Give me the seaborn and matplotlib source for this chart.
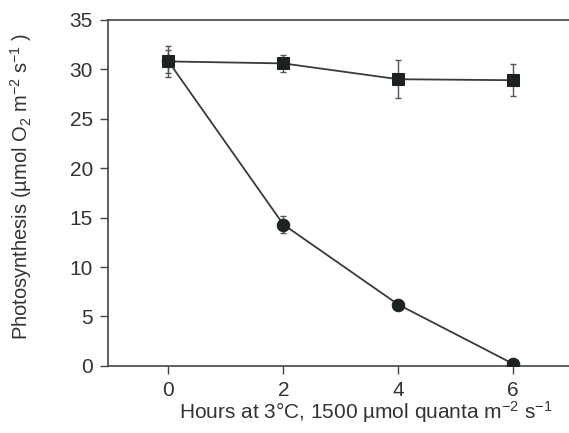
import matplotlib
matplotlib.use("Agg")
import matplotlib.pyplot as plt
import seaborn as sns
import pandas as pd

hours = [0, 2, 4, 6]
control = [30.8, 30.6, 29.0, 28.9]
control_err = [1.6, 0.9, 1.9, 1.6]
treated = [30.8, 14.3, 6.2, 0.2]
treated_err = [1.2, 0.9, 0.3, 0.2]
yticks = [0, 5, 10, 15, 20, 25, 30, 35]
xticks = [0, 2, 4, 6]

sns.set_theme(style="white")
plt.rcParams['font.family'] = ['Liberation Sans', 'DejaVu Sans']
plt.rcParams['mathtext.fontset'] = 'custom'
plt.rcParams['mathtext.rm'] = 'Liberation Sans'
plt.rcParams['mathtext.it'] = 'Liberation Sans'

df = pd.DataFrame({
    "hours": hours * 2,
    "value": control + treated,
    "series": ["control"] * 4 + ["treated"] * 4,
})

fig = plt.figure(figsize=(5.69, 4.33), dpi=100)
ax = fig.add_axes([0.19, 0.155, 0.81, 0.799])

line_col = "#3a3a3a"
mark_col = "#1c231f"
text_col = "#333333"

ax.errorbar(hours, control, yerr=control_err, fmt="none", ecolor="#555555",
            elinewidth=1.0, capsize=2.5, capthick=1.0, zorder=2)
ax.errorbar(hours, treated, yerr=treated_err, fmt="none", ecolor="#555555",
            elinewidth=1.0, capsize=2.5, capthick=1.0, zorder=2)

sns.lineplot(data=df[df.series == "control"], x="hours", y="value", ax=ax,
             color=line_col, lw=1.3, marker="s", markersize=9,
             markerfacecolor=mark_col, markeredgecolor=mark_col, zorder=3)
sns.lineplot(data=df[df.series == "treated"], x="hours", y="value", ax=ax,
             color=line_col, lw=1.3, marker="o", markersize=9,
             markerfacecolor=mark_col, markeredgecolor=mark_col, zorder=3)

ax.set_xlim(-1.05, 6.97)
ax.set_ylim(0, 35)
ax.set_xticks(xticks)
ax.set_yticks(yticks)
ax.tick_params(axis="both", direction="out", length=6, width=1.0,
               color="#444444", labelsize=15, labelcolor=text_col,
               bottom=True, left=True, pad=5)

for s in ["left", "bottom", "top"]:
    ax.spines[s].set_color("#444444")
    ax.spines[s].set_linewidth(1.2)
ax.spines["right"].set_visible(False)

ax.set_xlabel("Hours at 3°C, 1500 µmol quanta m$^{-2}$ s$^{-1}$",
              fontsize=15, color=text_col)
ax.set_ylabel("Photosynthesis (µmol O$_2$ m$^{-2}$ s$^{-1}$ )",
              fontsize=14.5, color=text_col)
ax.xaxis.set_label_coords(0.56, -0.097)
ax.yaxis.set_label_coords(-0.16, 0.52)

fig.savefig("out.png", dpi=100)
